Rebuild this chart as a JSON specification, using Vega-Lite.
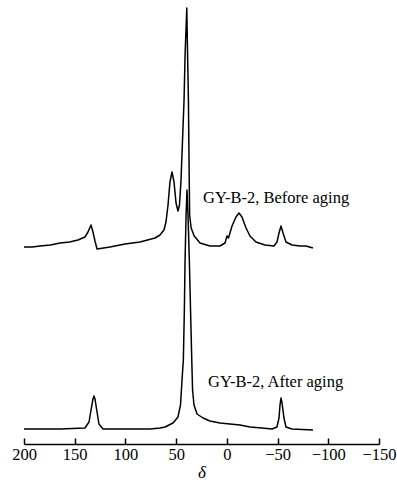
{
  "$schema": "https://vega.github.io/schema/vega-lite/v6.json",
  "autosize": "none",
  "width": 355,
  "height": 444,
  "padding": {"left": 24, "right": 18, "top": 0, "bottom": 38},
  "background": "white",
  "config": {
    "view": {"stroke": null},
    "axis": {
      "domainColor": "black",
      "domainWidth": 1.5,
      "tickColor": "black",
      "tickWidth": 1.5,
      "tickSize": -6,
      "grid": false,
      "labelFont": "Liberation Serif",
      "labelFontSize": 16.5,
      "labelColor": "black",
      "labelPadding": 8,
      "labelOverlap": false,
      "labelFlush": false,
      "labelBound": false,
      "titleFont": "Liberation Serif",
      "titleFontSize": 17,
      "titleFontStyle": "italic",
      "titleFontWeight": "normal",
      "titleColor": "black",
      "titlePadding": 2
    }
  },
  "datasets": {
    "spectra": [
      {"sample": "Before aging", "shift": 200, "intensity": 197},
      {"sample": "Before aging", "shift": 192.0, "intensity": 197},
      {"sample": "Before aging", "shift": 184.2, "intensity": 198},
      {"sample": "Before aging", "shift": 174.0, "intensity": 199},
      {"sample": "Before aging", "shift": 164.5, "intensity": 201},
      {"sample": "Before aging", "shift": 155.0, "intensity": 202},
      {"sample": "Before aging", "shift": 146.8, "intensity": 204},
      {"sample": "Before aging", "shift": 139.9, "intensity": 207},
      {"sample": "Before aging", "shift": 136.9, "intensity": 212},
      {"sample": "Before aging", "shift": 133.9, "intensity": 219},
      {"sample": "Before aging", "shift": 132.0, "intensity": 212},
      {"sample": "Before aging", "shift": 130.0, "intensity": 203},
      {"sample": "Before aging", "shift": 128.0, "intensity": 195},
      {"sample": "Before aging", "shift": 115.2, "intensity": 197},
      {"sample": "Before aging", "shift": 100.4, "intensity": 200},
      {"sample": "Before aging", "shift": 85.6, "intensity": 202},
      {"sample": "Before aging", "shift": 70.8, "intensity": 206},
      {"sample": "Before aging", "shift": 65.9, "intensity": 209},
      {"sample": "Before aging", "shift": 62.0, "intensity": 214},
      {"sample": "Before aging", "shift": 60.0, "intensity": 222},
      {"sample": "Before aging", "shift": 58.0, "intensity": 239},
      {"sample": "Before aging", "shift": 56.1, "intensity": 262},
      {"sample": "Before aging", "shift": 54.1, "intensity": 272},
      {"sample": "Before aging", "shift": 52.1, "intensity": 262},
      {"sample": "Before aging", "shift": 50.1, "intensity": 241},
      {"sample": "Before aging", "shift": 48.2, "intensity": 233},
      {"sample": "Before aging", "shift": 46.7, "intensity": 239},
      {"sample": "Before aging", "shift": 45.2, "intensity": 264},
      {"sample": "Before aging", "shift": 43.7, "intensity": 304},
      {"sample": "Before aging", "shift": 42.2, "intensity": 344},
      {"sample": "Before aging", "shift": 41.2, "intensity": 389},
      {"sample": "Before aging", "shift": 39.5, "intensity": 436},
      {"sample": "Before aging", "shift": 38.8, "intensity": 394},
      {"sample": "Before aging", "shift": 37.9, "intensity": 344},
      {"sample": "Before aging", "shift": 37.2, "intensity": 274},
      {"sample": "Before aging", "shift": 36.7, "intensity": 229},
      {"sample": "Before aging", "shift": 35.2, "intensity": 216},
      {"sample": "Before aging", "shift": 32.2, "intensity": 208},
      {"sample": "Before aging", "shift": 26.5, "intensity": 201},
      {"sample": "Before aging", "shift": 16.6, "intensity": 198},
      {"sample": "Before aging", "shift": 6.8, "intensity": 198},
      {"sample": "Before aging", "shift": 1.8, "intensity": 201},
      {"sample": "Before aging", "shift": -0.1, "intensity": 208},
      {"sample": "Before aging", "shift": -1.6, "intensity": 206},
      {"sample": "Before aging", "shift": -5.1, "intensity": 218},
      {"sample": "Before aging", "shift": -9.0, "intensity": 227},
      {"sample": "Before aging", "shift": -12.0, "intensity": 231},
      {"sample": "Before aging", "shift": -14.9, "intensity": 227},
      {"sample": "Before aging", "shift": -18.9, "intensity": 216},
      {"sample": "Before aging", "shift": -22.8, "intensity": 208},
      {"sample": "Before aging", "shift": -28.7, "intensity": 202},
      {"sample": "Before aging", "shift": -37.6, "intensity": 199},
      {"sample": "Before aging", "shift": -46.5, "intensity": 198},
      {"sample": "Before aging", "shift": -49.4, "intensity": 202},
      {"sample": "Before aging", "shift": -51.4, "intensity": 211},
      {"sample": "Before aging", "shift": -53.4, "intensity": 218},
      {"sample": "Before aging", "shift": -55.4, "intensity": 211},
      {"sample": "Before aging", "shift": -58.3, "intensity": 202},
      {"sample": "Before aging", "shift": -64.2, "intensity": 199},
      {"sample": "Before aging", "shift": -72.1, "intensity": 198},
      {"sample": "Before aging", "shift": -78.0, "intensity": 198},
      {"sample": "Before aging", "shift": -84.9, "intensity": 196},

      {"sample": "After aging", "shift": 200, "intensity": 15},
      {"sample": "After aging", "shift": 164.5, "intensity": 15},
      {"sample": "After aging", "shift": 139.9, "intensity": 16},
      {"sample": "After aging", "shift": 135.9, "intensity": 22},
      {"sample": "After aging", "shift": 133.9, "intensity": 34},
      {"sample": "After aging", "shift": 132.0, "intensity": 45},
      {"sample": "After aging", "shift": 131.0, "intensity": 48},
      {"sample": "After aging", "shift": 130.0, "intensity": 45},
      {"sample": "After aging", "shift": 128.0, "intensity": 32},
      {"sample": "After aging", "shift": 126.1, "intensity": 20},
      {"sample": "After aging", "shift": 122.1, "intensity": 15},
      {"sample": "After aging", "shift": 95.5, "intensity": 15},
      {"sample": "After aging", "shift": 75.8, "intensity": 15},
      {"sample": "After aging", "shift": 65.9, "intensity": 16},
      {"sample": "After aging", "shift": 61.0, "intensity": 17},
      {"sample": "After aging", "shift": 53.1, "intensity": 21},
      {"sample": "After aging", "shift": 48.2, "intensity": 27},
      {"sample": "After aging", "shift": 45.7, "intensity": 39},
      {"sample": "After aging", "shift": 44.2, "intensity": 64},
      {"sample": "After aging", "shift": 42.9, "intensity": 84},
      {"sample": "After aging", "shift": 41.9, "intensity": 134},
      {"sample": "After aging", "shift": 41.2, "intensity": 184},
      {"sample": "After aging", "shift": 40.2, "intensity": 229},
      {"sample": "After aging", "shift": 39.3, "intensity": 254},
      {"sample": "After aging", "shift": 38.3, "intensity": 229},
      {"sample": "After aging", "shift": 37.0, "intensity": 184},
      {"sample": "After aging", "shift": 35.8, "intensity": 134},
      {"sample": "After aging", "shift": 34.6, "intensity": 84},
      {"sample": "After aging", "shift": 33.8, "intensity": 54},
      {"sample": "After aging", "shift": 32.4, "intensity": 39},
      {"sample": "After aging", "shift": 29.4, "intensity": 30},
      {"sample": "After aging", "shift": 23.5, "intensity": 26},
      {"sample": "After aging", "shift": 16.6, "intensity": 23},
      {"sample": "After aging", "shift": 6.8, "intensity": 21},
      {"sample": "After aging", "shift": -3.1, "intensity": 20},
      {"sample": "After aging", "shift": -13.0, "intensity": 19},
      {"sample": "After aging", "shift": -22.8, "intensity": 17},
      {"sample": "After aging", "shift": -34.6, "intensity": 16},
      {"sample": "After aging", "shift": -44.5, "intensity": 15},
      {"sample": "After aging", "shift": -49.4, "intensity": 17},
      {"sample": "After aging", "shift": -51.4, "intensity": 26},
      {"sample": "After aging", "shift": -52.4, "intensity": 39},
      {"sample": "After aging", "shift": -53.4, "intensity": 46},
      {"sample": "After aging", "shift": -54.4, "intensity": 41},
      {"sample": "After aging", "shift": -56.3, "intensity": 26},
      {"sample": "After aging", "shift": -58.3, "intensity": 17},
      {"sample": "After aging", "shift": -64.2, "intensity": 15},
      {"sample": "After aging", "shift": -84.9, "intensity": 14}
    ],
    "labels": [
      {"label": "GY-B-2, Before aging", "shift": 23.5, "intensity": 241},
      {"label": "GY-B-2, After aging", "shift": 18.6, "intensity": 57}
    ]
  },
  "layer": [
    {
      "data": {"name": "spectra"},
      "mark": {"type": "line", "color": "black", "strokeWidth": 1.5, "strokeJoin": "round"},
      "encoding": {
        "x": {
          "field": "shift",
          "type": "quantitative",
          "scale": {"domain": [-150, 200], "reverse": true, "nice": false, "zero": false},
          "axis": {"values": [200, 150, 100, 50, 0, -50, -100, -150], "title": "δ"}
        },
        "y": {
          "field": "intensity",
          "type": "quantitative",
          "scale": {"domain": [0, 444], "nice": false, "zero": false},
          "axis": null
        },
        "detail": {"field": "sample"}
      }
    },
    {
      "data": {"name": "labels"},
      "mark": {"type": "text", "align": "left", "baseline": "alphabetic", "font": "Liberation Serif", "fontSize": 16.5, "color": "black"},
      "encoding": {
        "x": {"field": "shift", "type": "quantitative"},
        "y": {"field": "intensity", "type": "quantitative"},
        "text": {"field": "label"}
      }
    }
  ]
}
